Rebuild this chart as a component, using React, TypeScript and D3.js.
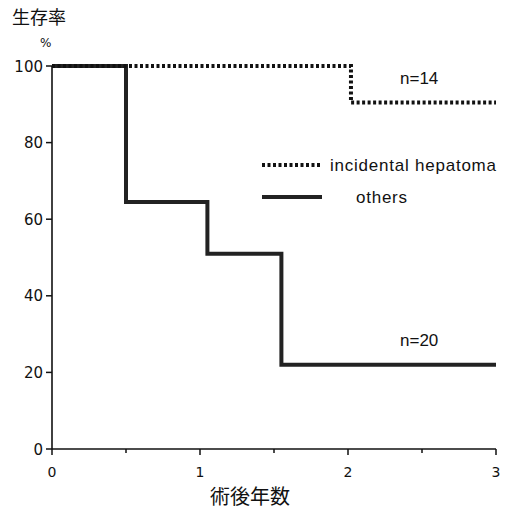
import React from "react";
import * as d3 from "d3";

const yTicks = [0, 20, 40, 60, 80, 100];
const xTicks = [0, 1, 2, 3];
const xMinorTicks = [0.5, 1.5, 2.5];
const incidentalTimes = [0, 2.02, 3];
const incidentalSurv = [100, 90.5, 90.5];
const othersTimes = [0, 0.5, 1.05, 1.55, 3];
const othersSurv = [100, 64.5, 51, 22, 22];

export default function App() {
  const x = d3.scaleLinear().domain([0, 3]).range([52, 496]);
  const y = d3.scaleLinear().domain([0, 100]).range([449, 66]);
  const line = d3.line<[number, number]>().x((d) => x(d[0])).y((d) => y(d[1])).curve(d3.curveStepAfter);
  const inc = incidentalTimes.map((t, i) => [t, incidentalSurv[i]] as [number, number]);
  const oth = othersTimes.map((t, i) => [t, othersSurv[i]] as [number, number]);
  const font = "DejaVu Sans, sans-serif";
  const lfont = "Liberation Sans, Arial, sans-serif";
  const cjk = "Noto Sans CJK JP, sans-serif";
  return (
    <svg width={508} height={513} style={{ position: "absolute", left: 0, top: 0, background: "#fff" }}>
      <text x={12} y={24} fontFamily={cjk} fontSize={18} fill="#111">生存率</text>
      <text x={40} y={47} fontFamily={font} fontSize={12} fill="#111">%</text>
      {/* axes */}
      <line x1={x(0)} y1={y(0)} x2={x(0)} y2={y(100)} stroke="#111" strokeWidth={1.6} />
      <line x1={x(0)} y1={y(0)} x2={x(3)} y2={y(0)} stroke="#111" strokeWidth={1.6} />
      {yTicks.map((t) => (
        <g key={"y" + t}>
          <line x1={x(0) - 6} x2={x(0)} y1={y(t)} y2={y(t)} stroke="#111" strokeWidth={1.5} />
          <text x={x(0) - 9} y={y(t) + 5.5} textAnchor="end" fontFamily={font} fontSize={15} fill="#111">{t}</text>
        </g>
      ))}
      {xTicks.map((t) => (
        <g key={"x" + t}>
          <line x1={x(t)} x2={x(t)} y1={y(0)} y2={y(0) + 6} stroke="#111" strokeWidth={1.5} />
          <text x={x(t)} y={y(0) + 28} textAnchor="middle" fontFamily={font} fontSize={14} fill="#111">{t}</text>
        </g>
      ))}
      {xMinorTicks.map((t) => (
        <line key={"m" + t} x1={x(t)} x2={x(t)} y1={y(0)} y2={y(0) + 4} stroke="#111" strokeWidth={1.5} />
      ))}
      <text x={250} y={504} textAnchor="middle" fontFamily={cjk} fontSize={20} fill="#111">術後年数</text>
      {/* curves */}
      <path d={line(oth) || ""} fill="none" stroke="#222" strokeWidth={4} />
      <path d={line(inc) || ""} fill="none" stroke="#111" strokeWidth={4} strokeDasharray="3,2.5" />
      {/* legend */}
      <line x1={262} x2={321} y1={165} y2={165} stroke="#111" strokeWidth={4} strokeDasharray="3,2.5" />
      <text x={330} y={171} fontFamily={lfont} fontSize={17} textLength={166} lengthAdjust="spacing" fill="#111">incidental hepatoma</text>
      <line x1={262} x2={322} y1={197} y2={197} stroke="#222" strokeWidth={4} />
      <text x={356} y={203} fontFamily={lfont} fontSize={17} textLength={51} lengthAdjust="spacing" fill="#111">others</text>
      <text x={400} y={84} fontFamily={lfont} fontSize={17} fill="#111">n=14</text>
      <text x={400} y={346} fontFamily={lfont} fontSize={17} fill="#111">n=20</text>
    </svg>
  );
}
